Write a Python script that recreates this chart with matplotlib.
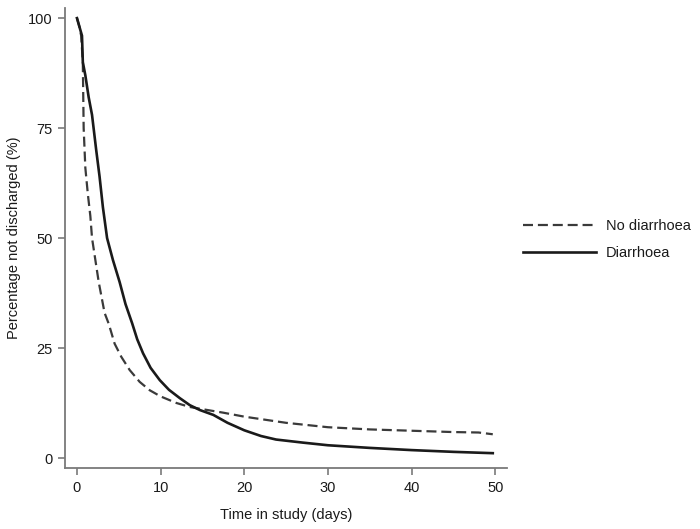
import matplotlib
matplotlib.use("Agg")
import matplotlib.pyplot as plt

# Kaplan-Meier style curves (days, % not discharged)
no_diarr_t = [0, 0.3, 0.5, 0.7, 0.8, 1.0, 1.3, 1.6, 1.8, 2.2, 2.6, 3.3, 3.8, 4.5, 5.3,
              6.3, 7.5, 8.7, 10, 11.9, 13.5, 15, 17.5, 20, 22.5, 25, 27.5, 30, 35,
              40, 45, 48, 49.7]
no_diarr_v = [100, 98, 96, 90, 75, 66, 60, 55, 50, 45, 40, 33, 30.5, 26, 23,
              20, 17.3, 15.4, 14, 12.5, 11.6, 11.1, 10.3, 9.4, 8.7, 8.0, 7.5, 7.0, 6.5,
              6.2, 5.9, 5.8, 5.4]

diarr_t = [0, 0.3, 0.6, 0.7, 1.0, 1.4, 1.8, 2.3, 2.7, 3.1, 3.6, 4.3, 5.1, 5.8, 6.6,
           7.2, 7.9, 8.8, 9.9, 11, 12.3, 13.5, 14.7, 16.3, 18, 20, 22, 23.8, 27,
           30, 35, 40, 45, 49.7]
diarr_v = [100, 98, 96, 90, 87, 82, 78, 70, 64, 57, 50, 45, 40, 35, 30.6,
           27, 23.8, 20.5, 17.7, 15.5, 13.6, 12, 10.9, 9.8, 8.0, 6.3, 5.0, 4.2, 3.5,
           2.9, 2.3, 1.8, 1.4, 1.1]

x_ticks = [0, 10, 20, 30, 40, 50]
y_ticks = [0, 25, 50, 75, 100]

plt.rcParams["font.family"] = ["Liberation Sans", "DejaVu Sans"]
FS = 10.5

fig = plt.figure(figsize=(7.0, 5.29), dpi=100)
ax = fig.add_axes([65 / 700, 1 - 468 / 529, 442 / 700, 460 / 529])

ax.plot(no_diarr_t, no_diarr_v, color="#3a3a3a", lw=1.6, dashes=(4.5, 2.2),
        label="No diarrhoea")
ax.plot(diarr_t, diarr_v, color="#1a1a1a", lw=1.9, label="Diarrhoea")

ax.set_xlim(-1.43, 51.4)
ax.set_ylim(-2.27, 102.3)
ax.set_xticks(x_ticks)
ax.set_yticks(y_ticks)

for side in ("top", "right"):
    ax.spines[side].set_visible(False)
for side in ("left", "bottom"):
    ax.spines[side].set_color("#7a7a7a")
    ax.spines[side].set_linewidth(1.3)
ax.tick_params(colors="#7a7a7a", length=5, width=1.2, pad=4,
               labelcolor="#1a1a1a", labelsize=FS)

ax.set_xlabel("Time in study (days)", fontsize=FS, color="#1a1a1a", labelpad=10)
ax.set_ylabel("Percentage not discharged (%)", fontsize=FS, color="#1a1a1a",
              labelpad=5)

leg = ax.legend(loc="center left", bbox_to_anchor=(1.006, 0.497), frameon=False,
                fontsize=FS, handlelength=5.0, handletextpad=0.7,
                labelspacing=0.9)
for text in leg.get_texts():
    text.set_color("#1a1a1a")

fig.savefig("out.png", dpi=100)
